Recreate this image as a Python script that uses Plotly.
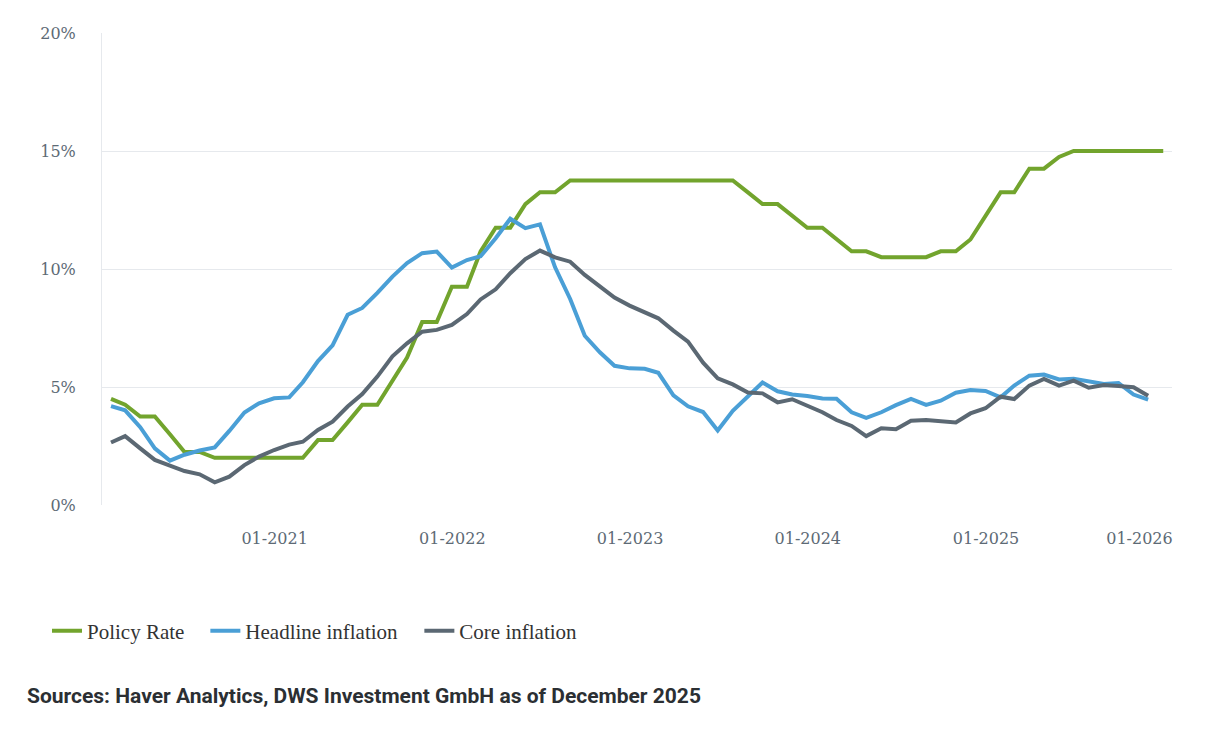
import pandas as pd
import plotly.graph_objects as go

# monthly, end of month, Jan 2020 onwards
policy_rate = [4.50, 4.25, 3.75, 3.75, 3.00, 2.25, 2.25, 2.00, 2.00, 2.00, 2.00, 2.00,
               2.00, 2.00, 2.75, 2.75, 3.50, 4.25, 4.25, 5.25, 6.25, 7.75, 7.75, 9.25,
               9.25, 10.75, 11.75, 11.75, 12.75, 13.25, 13.25, 13.75, 13.75, 13.75, 13.75, 13.75,
               13.75, 13.75, 13.75, 13.75, 13.75, 13.75, 13.75, 13.25, 12.75, 12.75, 12.25, 11.75,
               11.75, 11.25, 10.75, 10.75, 10.50, 10.50, 10.50, 10.50, 10.75, 10.75, 11.25, 12.25,
               13.25, 13.25, 14.25, 14.25, 14.75, 15.00, 15.00, 15.00, 15.00, 15.00, 15.00, 15.00]
headline = [4.19, 4.01, 3.30, 2.40, 1.88, 2.13, 2.31, 2.44, 3.14, 3.92, 4.31, 4.52,
            4.56, 5.20, 6.10, 6.76, 8.06, 8.35, 8.99, 9.68, 10.25, 10.67, 10.74, 10.06,
            10.38, 10.54, 11.30, 12.13, 11.73, 11.89, 10.07, 8.73, 7.17, 6.47, 5.90, 5.79,
            5.77, 5.60, 4.65, 4.18, 3.94, 3.16, 3.99, 4.61, 5.19, 4.82, 4.68, 4.62,
            4.51, 4.50, 3.93, 3.69, 3.93, 4.23, 4.50, 4.24, 4.42, 4.76, 4.87, 4.83,
            4.56, 5.06, 5.48, 5.53, 5.32, 5.35, 5.23, 5.13, 5.17, 4.68, 4.46]
core = [2.65, 2.92, 2.40, 1.91, 1.67, 1.44, 1.30, 0.96, 1.20, 1.69, 2.05, 2.33,
        2.56, 2.68, 3.18, 3.53, 4.17, 4.70, 5.44, 6.30, 6.85, 7.34, 7.42, 7.63,
        8.09, 8.71, 9.14, 9.82, 10.42, 10.78, 10.49, 10.31, 9.75, 9.25, 8.79, 8.45,
        8.15, 7.91, 7.39, 6.92, 6.03, 5.37, 5.11, 4.77, 4.73, 4.35, 4.48, 4.21,
        3.93, 3.60, 3.35, 2.92, 3.25, 3.21, 3.57, 3.60, 3.53, 3.50, 3.88, 4.10,
        4.59, 4.49, 5.06, 5.34, 5.06, 5.27, 4.97, 5.08, 5.04, 4.99, 4.63]

dates = pd.date_range('2020-01-31', periods=len(policy_rate), freq='ME')

tick_years = [2021, 2022, 2023, 2024, 2025]
last_year = 2026
x_range = ['2020-01-12 12:00', '2026-01-18']

# last series goes on the twin x axis (same range) so that axis gets drawn;
# it carries the final tick label, which sits flush with the frame's right edge
series = [
    ('Policy Rate', policy_rate, '#72a42d', 'legend', -0.0514, 'x'),
    ('Headline inflation', headline, '#4a9fd6', 'legend2', 0.0966, 'x'),
    ('Core inflation', core, '#5b6873', 'legend3', 0.2966, 'x2'),
]

fig = go.Figure()
legends = {}
for name, vals, color, lg, lx, xa in series:
    fig.add_trace(go.Scatter(
        x=dates[:len(vals)], y=vals, name=name, mode='lines',
        line=dict(color=color, width=4),
        xaxis=xa, legend=lg, hoverinfo='skip',
    ))
    legends[lg] = dict(orientation='h', x=lx, y=-0.267, xanchor='left', yanchor='middle',
                       font=dict(family='Liberation Serif', size=21, color='#333333'),
                       itemwidth=30, bgcolor='rgba(0,0,0,0)')

fig.update_layout(
    width=1216, height=736,
    margin=dict(l=94, r=52, t=25, b=239, autoexpand=False),
    plot_bgcolor='white', paper_bgcolor='white',
    font=dict(family='DejaVu Serif', size=16, color='#5d6a75'),
    showlegend=True,
    xaxis=dict(
        type='date', range=x_range,
        tickvals=[pd.Timestamp(f'{y}-01-01') for y in tick_years],
        ticktext=[f'01-{y}' for y in tick_years],
        showgrid=False, zeroline=False, showline=False,
        ticklabelstandoff=22,
    ),
    xaxis2=dict(
        type='date', range=x_range, overlaying='x', anchor='y', side='bottom',
        tickvals=[pd.Timestamp(f'{last_year}-01-01')], ticktext=[f'01-{last_year}'],
        showgrid=False, zeroline=False, showline=False,
        ticklabelposition='outside left', ticklabelshift=9, ticklabelstandoff=22,
    ),
    yaxis=dict(
        range=[0, 20], tickvals=[0, 5, 10, 15, 20], ticktext=['0%', '5%', '10%', '15%', '20%'],
        showgrid=True, gridcolor='#e6e9ed', gridwidth=1, zeroline=False,
        showline=True, linecolor='#e6e9ed', linewidth=1,
        ticklabelstandoff=22,
    ),
    annotations=[dict(
        text='<b>Sources: Haver Analytics, DWS Investment GmbH as of December 2025</b>',
        xref='paper', yref='paper', x=-0.072, y=-0.405, xanchor='left', yanchor='middle',
        showarrow=False, font=dict(family='Roboto', size=21, color='#2b2f33'),
    )],
    **legends,
)

fig.write_html('out.html')
